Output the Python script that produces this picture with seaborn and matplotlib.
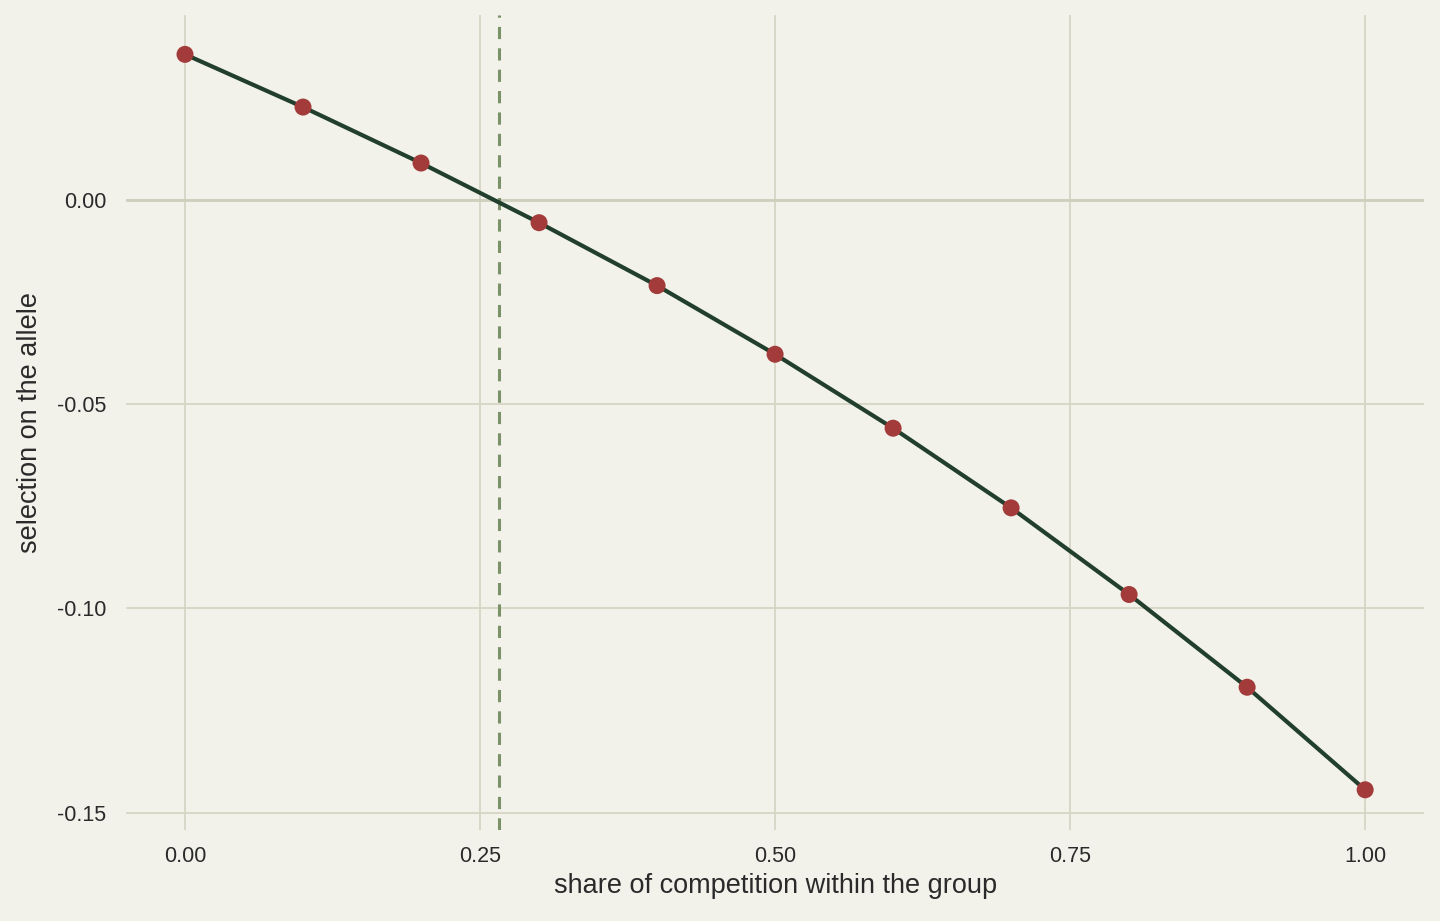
import matplotlib
matplotlib.use("Agg")
import matplotlib.pyplot as plt
import seaborn as sns
import pandas as pd

share = [0.0, 0.1, 0.2, 0.3, 0.4, 0.5, 0.6, 0.7, 0.8, 0.9, 1.0]
selection = [0.0356, 0.0227, 0.0090, -0.0056, -0.0210, -0.0378, -0.0559, -0.0754, -0.0966, -0.1193, -0.1444]
threshold = 0.266
xticks = [0.0, 0.25, 0.5, 0.75, 1.0]
yticks = [0.0, -0.05, -0.10, -0.15]

bg = "#f2f2eb"
sns.set_theme(style="whitegrid", rc={"axes.facecolor": bg, "figure.facecolor": bg,
                                     "grid.color": "#d6d6c6", "grid.linewidth": 1.3})
plt.rcParams['font.family'] = ['Arial', 'Liberation Sans', 'DejaVu Sans']

fig, ax = plt.subplots(figsize=(14.4, 9.21), dpi=100)
fig.subplots_adjust(left=0.0875, right=0.989, bottom=0.099, top=0.984)
df = pd.DataFrame({"share": share, "selection": selection})
sns.lineplot(data=df, x="share", y="selection", ax=ax, color="#213f2c", linewidth=3, zorder=3)
sns.scatterplot(data=df, x="share", y="selection", ax=ax, color="#a33b3a", s=150, edgecolor="none", zorder=4)
ax.axvline(threshold, color="#7b9168", linestyle=(0, (4, 3)), linewidth=2.2, zorder=2)
ax.axhline(0, color="#cfcfbd", linewidth=2, zorder=1)
for s in ax.spines.values():
    s.set_visible(False)
ax.set_xlim(-0.05, 1.05)
ax.set_ylim(-0.1542, 0.0453)
ax.set_xticks(xticks)
ax.set_xticklabels([f"{v:.2f}" for v in xticks])
ax.set_yticks(yticks)
ax.set_yticklabels([f"{v:.2f}" for v in yticks])
ax.tick_params(labelsize=15.5, colors="#2a2a2a", length=0)
ax.tick_params(axis="x", pad=12)
ax.tick_params(axis="y", pad=14)
ax.set_xlabel("share of competition within the group", fontsize=19.5, color="#2a2a2a", labelpad=4)
ax.set_ylabel("selection on the allele", fontsize=19.5, color="#2a2a2a", labelpad=10)
fig.savefig("out.png", dpi=100)
